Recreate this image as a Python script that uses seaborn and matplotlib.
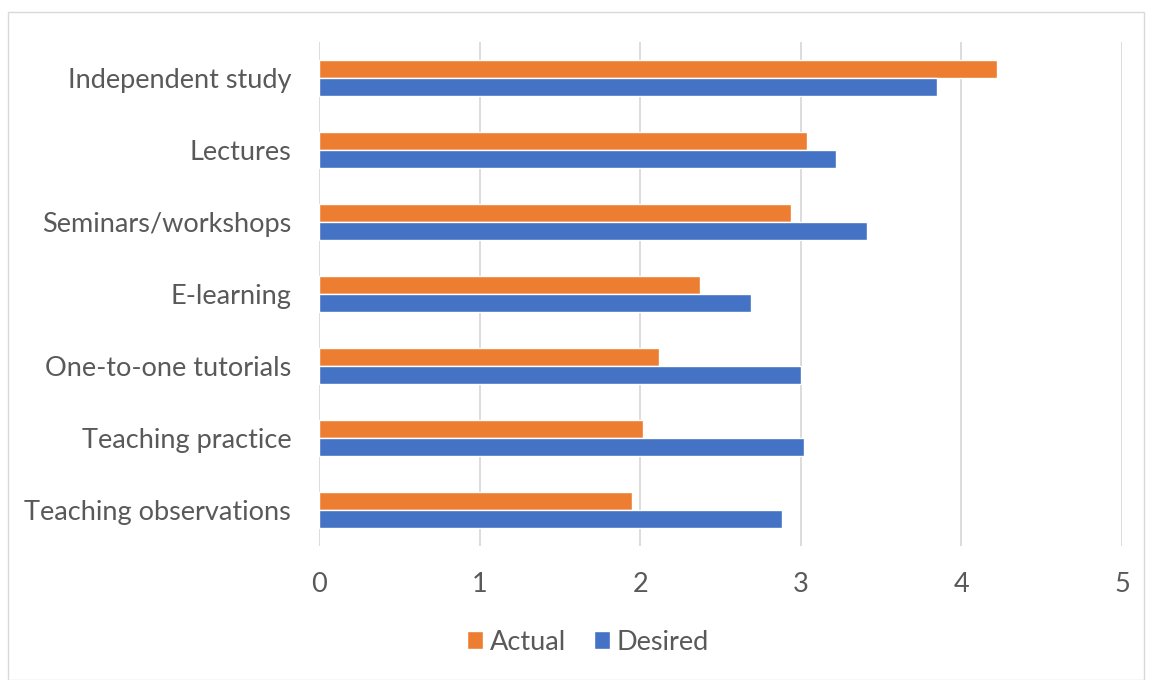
import matplotlib
matplotlib.use("Agg")
import matplotlib.pyplot as plt
import seaborn as sns
import pandas as pd
from matplotlib.patches import Rectangle

categories = ["Independent study", "Lectures", "Seminars/workshops", "E-learning",
              "One-to-one tutorials", "Teaching practice", "Teaching observations"]
actual = [4.22, 3.04, 2.94, 2.37, 2.12, 2.02, 1.95]
desired = [3.85, 3.22, 3.41, 2.69, 3.00, 3.02, 2.88]
series = ["Actual", "Desired"]
xticks = [0, 1, 2, 3, 4, 5]

df = pd.DataFrame({
    "category": categories * 2,
    "value": actual + desired,
    "series": [series[0]] * len(categories) + [series[1]] * len(categories),
})

sns.set_theme(style="white")
plt.rcParams["font.family"] = ["Lato", "DejaVu Sans"]
text_color = "#595959"
fs = 19.5

fig = plt.figure(figsize=(11.52, 6.8), dpi=100)
ax = fig.add_axes([319 / 1152, 1 - 546 / 680, (1122 - 319) / 1152, (546 - 42) / 680])

sns.barplot(data=df, y="category", x="value", hue="series", hue_order=series,
            order=categories, orient="h", width=0.5,
            palette={"Actual": "#ED7D31", "Desired": "#4472C4"},
            saturation=1, ax=ax, legend=True)

ax.set_xlim(0, 5)
ax.set_ylim(6.5, -0.5)
ax.set_xticks(xticks)
ax.set_xticklabels([str(t) for t in xticks])
ax.xaxis.grid(True, color="#D9D9D9", linewidth=1.3)
ax.set_axisbelow(True)
for s in ax.spines.values():
    s.set_visible(False)
ax.set_xlabel("")
ax.set_ylabel("")
ax.tick_params(axis="y", length=0, pad=20, labelsize=fs, labelcolor=text_color)
ax.tick_params(axis="x", length=0, pad=19, labelsize=fs, labelcolor=text_color)

handles, labels = ax.get_legend_handles_labels()
ax.get_legend().remove()
fig.legend(handles, labels, loc="center", bbox_to_anchor=(588 / 1152, 1 - 642 / 680),
           ncol=2, frameon=False, fontsize=fs, labelcolor=text_color,
           handlelength=0.6, handleheight=0.6, handletextpad=0.25, columnspacing=1.0)

fig.patches.append(Rectangle((8 / 1152, 0), (1144 - 8) / 1152, 1 - 12 / 680,
                             transform=fig.transFigure, fill=False,
                             edgecolor="#D9D9D9", linewidth=1))

fig.savefig("out.png", dpi=100, facecolor="white")
